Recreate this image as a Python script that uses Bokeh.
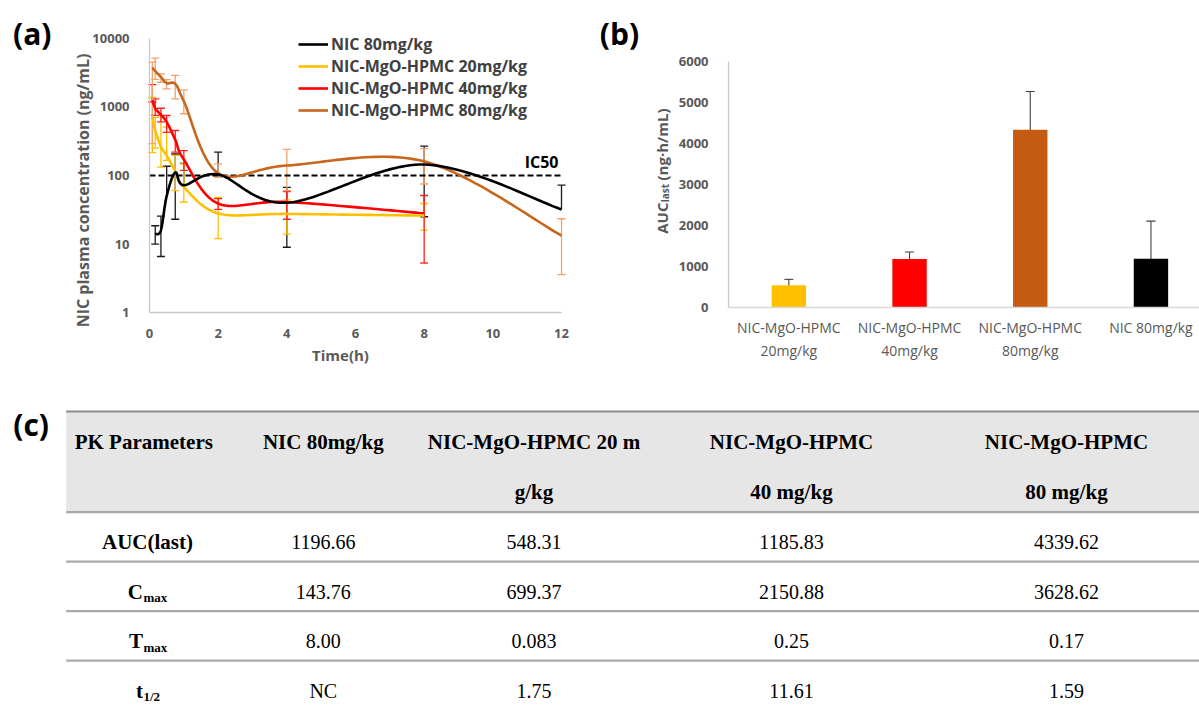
import numpy as np
from bokeh.plotting import figure
from bokeh.models import (Range1d, FixedTicker, Legend, Label, Whisker, TeeHead,
                          ColumnDataSource, PrintfTickFormatter)
from bokeh.layouts import column, row
from bokeh.embed import file_html
from bokeh.resources import INLINE
from bokeh.core.properties import value

# ---------------- data: panel (a) plasma concentration (ng/mL) ----------------
series_names = ["NIC 80mg/kg", "NIC-MgO-HPMC 20mg/kg", "NIC-MgO-HPMC 40mg/kg", "NIC-MgO-HPMC 80mg/kg"]

nic80_t    = [0.167, 0.333, 0.5, 0.75, 1, 2, 4, 8, 12]
nic80_mean = [14, 16, 50, 110, 72, 103, 40, 144, 32]
nic80_lo   = [10, 6.6, 0, 23, 0, 0, 9, 25, 0]
nic80_hi   = [18.5, 25.5, 136, 205, 150, 218, 67, 266, 72]

m20_t    = [0.083, 0.167, 0.333, 0.5, 0.75, 1, 2, 4, 8]
m20_mean = [700, 450, 260, 195, 115, 68, 28, 27.5, 26]
m20_lo   = [215, 250, 132, 165, 60, 41, 12, 14, 16]
m20_hi   = [1370, 700, 740, 505, 195, 147, 48, 44, 39]

m40_t    = [0.083, 0.167, 0.333, 0.5, 0.75, 1, 2, 4, 8]
m40_mean = [1250, 950, 760, 600, 330, 170, 39, 41, 28]
m40_lo   = [1170, 750, 600, 422, 218, 118, 32, 23, 5.3]
m40_hi   = [2090, 1300, 950, 745, 450, 230, 46, 58, 51]

m80_t    = [0.083, 0.167, 0.333, 0.5, 0.75, 1, 2, 4, 8, 12]
m80_mean = [3700, 3300, 2700, 2200, 2150, 1200, 108, 139, 160, 13.3]
m80_lo   = [290, 2500, 2270, 1820, 1300, 790, 94, 60, 75, 3.6]
m80_hi   = [4450, 5100, 3000, 2470, 2850, 1760, 147, 240, 245, 23.4]

ic50 = 100
x_ticks_a = [0, 2, 4, 6, 8, 10, 12]
y_ticks_a = [1, 10, 100, 1000, 10000]

# ---------------- data: panel (b) AUC ----------------
auc_line1 = ["NIC-MgO-HPMC", "NIC-MgO-HPMC", "NIC-MgO-HPMC", "NIC 80mg/kg"]
auc_line2 = ["20mg/kg", "40mg/kg", "80mg/kg", ""]
auc_mean = [548.31, 1185.83, 4339.62, 1196.66]
auc_sd = [145, 175, 930, 915]
y_ticks_b = [0, 1000, 2000, 3000, 4000, 5000, 6000]

# ---------------- data: panel (c) table ----------------
tbl_header1 = ["PK Parameters", "NIC 80mg/kg", "NIC-MgO-HPMC 20 m", "NIC-MgO-HPMC", "NIC-MgO-HPMC"]
tbl_header2 = ["", "", "g/kg", "40 mg/kg", "80 mg/kg"]
param_base = ["AUC(last)", "C", "T", "t"]
param_sub = ["", "max", "max", "1/2"]
col_nic80 = ["1196.66", "143.76", "8.00", "NC"]
col_m20 = ["548.31", "699.37", "0.083", "1.75"]
col_m40 = ["1185.83", "2150.88", "0.25", "11.61"]
col_m80 = ["4339.62", "3628.62", "0.17", "1.59"]

# ---------------- styles ----------------
FONT = "Open Sans"
SERIF = "Liberation Serif"
GRAY = "#595959"
AXIS_GRAY = "#C8C8C8"
line_colors = ["#000000", "#FFC000", "#FF0000", "#C8661E"]
err_colors = ["#1A1A1A", "#FFC000", "#FF2020", "#F2A26B"]
bar_colors = ["#FFC000", "#FF0000", "#C55A11", "#000000"]


def excel_smooth(ts, vals, n=30):
    """Excel-like smoothed line (cubic Bezier, tangent factor 1/6) in (t, log10 y) space."""
    P = np.column_stack([np.asarray(ts, float), np.log10(np.asarray(vals, float))])
    m = len(P)
    out = [P[0]]
    tt = np.linspace(0, 1, n + 1)[1:, None]
    for i in range(m - 1):
        p0 = P[i - 1] if i > 0 else P[i]
        p1, p2 = P[i], P[i + 1]
        p3 = P[i + 2] if i + 2 < m else P[i + 1]
        c1 = p1 + (p2 - p0) / 6.0
        c2 = p2 - (p3 - p1) / 6.0
        seg = (1 - tt) ** 3 * p1 + 3 * (1 - tt) ** 2 * tt * c1 + 3 * (1 - tt) * tt ** 2 * c2 + tt ** 3 * p2
        out.extend(seg)
    out = np.array(out)
    return out[:, 0], 10 ** out[:, 1]


def style_axis(ax, size="13px", bold=True):
    ax.axis_line_color = AXIS_GRAY
    ax.axis_line_width = 1.3
    ax.major_tick_line_color = None
    ax.minor_tick_line_color = None
    ax.major_label_text_font = FONT
    ax.major_label_text_font_size = size
    ax.major_label_text_font_style = "bold" if bold else "normal"
    ax.major_label_text_color = GRAY


def add_errorbars(p, t, mean, lo, hi, color, width=1.3, size=8):
    up = ColumnDataSource(dict(x=list(t), lower=list(mean), upper=list(hi)))
    p.add_layout(Whisker(source=up, base="x", lower="lower", upper="upper", dimension="height",
                         line_color=color, line_width=width, lower_head=None,
                         upper_head=TeeHead(size=size, line_color=color, line_width=width)))
    idx = [i for i, v in enumerate(lo) if v > 0]
    dn = ColumnDataSource(dict(x=[t[i] for i in idx], lower=[lo[i] for i in idx],
                               upper=[mean[i] for i in idx]))
    p.add_layout(Whisker(source=dn, base="x", lower="lower", upper="upper", dimension="height",
                         line_color=color, line_width=width, upper_head=None,
                         lower_head=TeeHead(size=size, line_color=color, line_width=width)))


TOP_H = 372  # height of the row holding panels (a) and (b)

# ======================= panel (a) =======================
# page-pixel geometry of the plot area (frame covers the whole figure, axes are fixed inside)
A_W, A_H = 600, TOP_H
A_LEFT, A_RIGHT, A_TOP, A_BOTTOM = 149.0, 561.0, 37.5, 312.3
SX_A = (A_RIGHT - A_LEFT) / (x_ticks_a[-1] - x_ticks_a[0])
DEC_A = (A_BOTTOM - A_TOP) / (np.log10(y_ticks_a[-1]) - np.log10(y_ticks_a[0]))


def ax_(px):
    return x_ticks_a[0] + (px - A_LEFT) / SX_A


def ay_(py):
    return 10 ** (np.log10(y_ticks_a[0]) + (A_BOTTOM - py) / DEC_A)


pa = figure(width=A_W, height=A_H, x_range=Range1d(ax_(0), ax_(A_W)),
            y_range=Range1d(ay_(A_H), ay_(0)), y_axis_type="log", title=None,
            output_backend="svg", toolbar_location=None, min_border=0)
pa.grid.visible = False
pa.outline_line_color = None
pa.xaxis.ticker = FixedTicker(ticks=x_ticks_a)
pa.yaxis.ticker = FixedTicker(ticks=y_ticks_a)
pa.yaxis.formatter = PrintfTickFormatter(format="%d")
pa.xaxis.fixed_location = y_ticks_a[0]
pa.xaxis.bounds = (x_ticks_a[0], x_ticks_a[-1])
pa.yaxis.fixed_location = x_ticks_a[0]
pa.yaxis.bounds = (y_ticks_a[0], y_ticks_a[-1])
style_axis(pa.xaxis)
style_axis(pa.yaxis)
pa.xaxis.major_label_standoff = 10
pa.yaxis.major_label_standoff = 14

series = [
    (nic80_t, nic80_mean, nic80_lo, nic80_hi),
    (m20_t, m20_mean, m20_lo, m20_hi),
    (m40_t, m40_mean, m40_lo, m40_hi),
    (m80_t, m80_mean, m80_lo, m80_hi),
]

for (t, mn, lo, hi), ec in zip(series, err_colors):
    add_errorbars(pa, t, mn, lo, hi, ec)

# IC50 dashed reference line across the time axis
pa.line(x=[x_ticks_a[0], x_ticks_a[-1]], y=[ic50, ic50], line_color="black",
        line_dash="6 3", line_width=2)

renderers = {}
for k in [3, 2, 1, 0]:
    t, mn, lo, hi = series[k]
    xs, ys = excel_smooth(t, mn)
    renderers[k] = pa.line(xs, ys, line_color=line_colors[k], line_width=2.6, line_join="round")

LEG_TOP, LEG_ROW = 36.5, 21
legend = Legend(items=[(series_names[k], [renderers[k]]) for k in range(4)],
                location=(298, A_H - (LEG_TOP + 4 * LEG_ROW)))
legend.label_text_font = FONT
legend.label_text_font_style = "bold"
legend.label_text_font_size = "16px"
legend.label_text_color = "#404040"
legend.glyph_width = 30
legend.glyph_height = 20
legend.label_height = 20
legend.spacing = 0
legend.padding = 0
legend.margin = 0
legend.label_standoff = 3
legend.border_line_color = None
legend.background_fill_alpha = 0
pa.add_layout(legend)

pa.add_layout(Label(x=x_ticks_a[-1], y=ic50, text="IC50", text_align="right",
                    text_baseline="alphabetic", x_offset=-3, y_offset=13, text_font=FONT,
                    text_font_style="bold", text_font_size="16px", text_color="#000000"))
pa.add_layout(Label(x=ax_(82), y=ay_(190), text="NIC plasma concentration (ng/mL)",
                    angle=np.pi / 2, text_align="center", text_baseline="middle",
                    text_font=FONT, text_font_style="bold", text_font_size="16px",
                    text_color=GRAY))
pa.add_layout(Label(x=ax_(340), y=ay_(354), text="Time(h)", text_align="center",
                    text_baseline="middle", text_font=FONT, text_font_style="bold",
                    text_font_size="15px", text_color=GRAY))
pa.add_layout(Label(x=ax_(31.7), y=ay_(33.3), text="(a)", text_align="center",
                    text_baseline="middle", text_font=FONT, text_font_style="bold",
                    text_font_size="30px", text_color="#000000"))

# ======================= panel (b) =======================
B_X0, B_W, B_H = 600, 599, TOP_H
B_LEFT, B_TOP, B_BOTTOM = 728.0, 61.0, 307.3
CW = 120.7  # pixels per category
PPU = (B_BOTTOM - B_TOP) / (y_ticks_b[-1] - y_ticks_b[0])


def bx_(px):
    return (px - B_LEFT) / CW


def by_(py):
    return y_ticks_b[0] + (B_BOTTOM - py) / PPU


nb = len(auc_mean)
xb = [i + 0.5 for i in range(nb)]
pb = figure(width=B_W, height=B_H, x_range=Range1d(bx_(B_X0), bx_(B_X0 + B_W)),
            y_range=Range1d(by_(B_H), by_(0)), title=None,
            output_backend="svg", toolbar_location=None, min_border=0)
pb.grid.visible = False
pb.outline_line_color = None
pb.yaxis.ticker = FixedTicker(ticks=y_ticks_b)
pb.xaxis.ticker = FixedTicker(ticks=xb)
pb.xaxis.major_label_overrides = {
    x: (a + "\n" + b if b else a) for x, a, b in zip(xb, auc_line1, auc_line2)
}
pb.xaxis.fixed_location = y_ticks_b[0]
pb.xaxis.bounds = (0, bx_(B_X0 + B_W))
pb.yaxis.fixed_location = 0
pb.yaxis.bounds = (y_ticks_b[0], y_ticks_b[-1])
style_axis(pb.yaxis)
style_axis(pb.xaxis, size="14px", bold=False)
pb.xaxis.axis_line_color = "#D9D9D9"
pb.yaxis.major_label_standoff = 14
pb.xaxis.major_label_standoff = 4
pb.xaxis.major_label_text_line_height = 1.2

src_b = ColumnDataSource(dict(x=xb, top=auc_mean, color=bar_colors,
                              lower=[m - s for m, s in zip(auc_mean, auc_sd)],
                              upper=[m + s for m, s in zip(auc_mean, auc_sd)]))
pb.vbar(x="x", top="top", width=0.285, fill_color="color", line_color=None, source=src_b)
pb.add_layout(Whisker(source=src_b, base="x", lower="lower", upper="upper", dimension="height",
                      line_color="#404040", line_width=1.1,
                      upper_head=TeeHead(size=9, line_color="#404040", line_width=1.1),
                      lower_head=TeeHead(size=9, line_color="#404040", line_width=1.1)))

pb.add_layout(Label(x=bx_(619), y=by_(33.3), text="(b)", text_align="center",
                    text_baseline="middle", text_font=FONT, text_font_style="bold",
                    text_font_size="30px", text_color="#000000"))
# y axis title: AUC_last (ng·h/mL), written bottom-to-top
lab_kw = dict(angle=np.pi / 2, text_align="left", text_baseline="middle", text_font=FONT,
              text_font_style="bold", text_color=GRAY)
pb.add_layout(Label(x=bx_(661), y=by_(233.3), text="AUC", text_font_size="15px", **lab_kw))
pb.add_layout(Label(x=bx_(664.5), y=by_(201.8), text="last", text_font_size="10px", **lab_kw))
pb.add_layout(Label(x=bx_(661), y=by_(180), text="(ng·h/mL)", text_font_size="15px", **lab_kw))

# ======================= panel (c) table =======================
C_Y0, C_W = TOP_H, 1199
C_H = 704 - TOP_H
pc = figure(width=C_W, height=C_H, x_range=Range1d(0, C_W), y_range=Range1d(C_Y0 + C_H, C_Y0),
            x_axis_type=None, y_axis_type=None, title=None, output_backend="svg",
            toolbar_location=None, min_border=0)
pc.outline_line_color = None

TBL_LEFT, TBL_RIGHT, TBL_TOP = 65.7, 1199, 411
HEADER_H, ROW_H = 100.7, 49.5
hdr_bottom = TBL_TOP + HEADER_H
col_x_hdr = [143.3, 322.8, 533.5, 791, 1066]
col_x = [147, 322.8, 533.5, 791, 1066]

pc.quad(left=[TBL_LEFT], right=[TBL_RIGHT], top=[TBL_TOP], bottom=[hdr_bottom],
        fill_color="#E7E6E6", line_color=None)
pc.segment(x0=[TBL_LEFT], x1=[TBL_RIGHT], y0=[TBL_TOP], y1=[TBL_TOP],
           line_color="#8C8C8C", line_width=2.2)
row_lines = [hdr_bottom + ROW_H * k for k in range(0, 4)]
pc.segment(x0=[TBL_LEFT] * 4, x1=[TBL_RIGHT] * 4, y0=row_lines, y1=row_lines,
           line_color="#A8A8A8", line_width=2.2)

pc.text(x=col_x_hdr, y=[TBL_TOP + 30.7] * 5, text=tbl_header1, text_font=value(SERIF),
        text_font_size="21px", text_font_style="bold", text_align="center",
        text_baseline="middle", text_color="#000000")
pc.text(x=col_x_hdr, y=[TBL_TOP + 80.7] * 5, text=tbl_header2, text_font=value(SERIF),
        text_font_size="21px", text_font_style="bold", text_align="center",
        text_baseline="middle", text_color="#000000")

row_y = [hdr_bottom + 30 + ROW_H * i for i in range(len(param_base))]
sub_anchor = 142.5
for i, (b, s) in enumerate(zip(param_base, param_sub)):
    if s:
        pc.text(x=[sub_anchor], y=[row_y[i]], text=[b], text_font=value(SERIF),
                text_font_size="21px", text_font_style="bold", text_align="right",
                text_baseline="middle", text_color="#000000")
        pc.text(x=[sub_anchor + 0.5], y=[row_y[i] + 6], text=[s], text_font=value(SERIF),
                text_font_size="13px", text_font_style="bold", text_align="left",
                text_baseline="middle", text_color="#000000")
    else:
        pc.text(x=[col_x[0]], y=[row_y[i]], text=[b], text_font=value(SERIF),
                text_font_size="21px", text_font_style="bold", text_align="center",
                text_baseline="middle", text_color="#000000")

for cx, col in zip(col_x[1:], [col_nic80, col_m20, col_m40, col_m80]):
    pc.text(x=[cx] * len(col), y=row_y, text=col, text_font=value(SERIF),
            text_font_size="20px", text_align="center", text_baseline="middle",
            text_color="#000000")

pc.text(x=[30.6], y=[424], text=["(c)"], text_font=value(FONT), text_font_size="30px",
        text_font_style="bold", text_align="center", text_baseline="middle",
        text_color="#000000")

layout = column(row(pa, pb), pc)
open("out.html", "w").write(file_html(layout, INLINE))
